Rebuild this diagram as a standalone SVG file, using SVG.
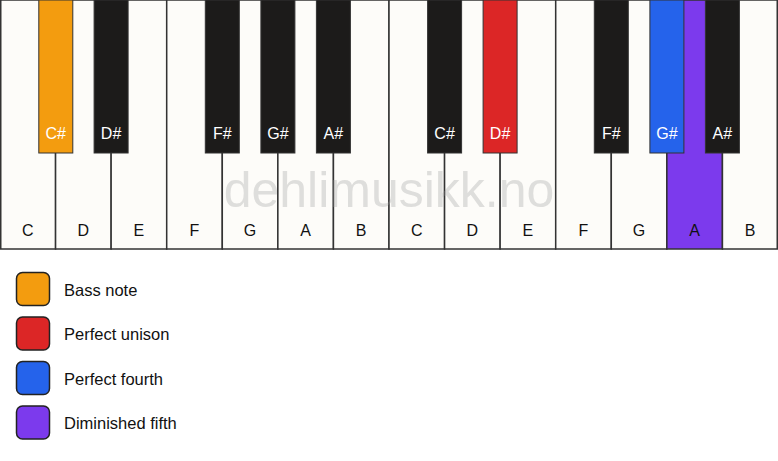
<svg xmlns="http://www.w3.org/2000/svg" width="778" height="461" viewBox="0 0 778 461">
<style>
.w{fill:#fdfcf9;stroke:#333;stroke-width:1.5}
.b{fill:#1c1b1a;stroke:#333;stroke-width:1}
.wl{font-family:"Liberation Sans",Arial,sans-serif;font-size:16px;fill:#111;text-anchor:middle}
.bl{font-family:"Liberation Sans",Arial,sans-serif;font-size:16px;fill:#fff;text-anchor:middle}
.lg{font-family:"Liberation Sans",Arial,sans-serif;font-size:16.5px;fill:#111}
.sw{stroke:#222;stroke-width:1.5}
</style>
<rect width="778" height="461" fill="#fff"/>
<g id="white-keys">
<g id="w-C1"><rect class="w" x="0.75" y="0" width="54.82" height="249"/><text class="wl" x="27.8" y="236">C</text></g>
<g id="w-D1"><rect class="w" x="55.57" y="0" width="55.57" height="249"/><text class="wl" x="83.4" y="236">D</text></g>
<g id="w-E1"><rect class="w" x="111.14" y="0" width="55.57" height="249"/><text class="wl" x="138.9" y="236">E</text></g>
<g id="w-F1"><rect class="w" x="166.71" y="0" width="55.57" height="249"/><text class="wl" x="194.5" y="236">F</text></g>
<g id="w-G1"><rect class="w" x="222.29" y="0" width="55.57" height="249"/><text class="wl" x="250.1" y="236">G</text></g>
<g id="w-A1"><rect class="w" x="277.86" y="0" width="55.57" height="249"/><text class="wl" x="305.6" y="236">A</text></g>
<g id="w-B1"><rect class="w" x="333.43" y="0" width="55.57" height="249"/><text class="wl" x="361.2" y="236">B</text></g>
<g id="w-C2"><rect class="w" x="389" y="0" width="55.57" height="249"/><text class="wl" x="416.8" y="236">C</text></g>
<g id="w-D2"><rect class="w" x="444.57" y="0" width="55.57" height="249"/><text class="wl" x="472.4" y="236">D</text></g>
<g id="w-E2"><rect class="w" x="500.14" y="0" width="55.57" height="249"/><text class="wl" x="527.9" y="236">E</text></g>
<g id="w-F2"><rect class="w" x="555.71" y="0" width="55.57" height="249"/><text class="wl" x="583.5" y="236">F</text></g>
<g id="w-G2"><rect class="w" x="611.29" y="0" width="55.57" height="249"/><text class="wl" x="639.1" y="236">G</text></g>
<g id="w-A2"><rect class="w" x="666.86" y="0" width="55.57" height="249" style="fill:#7c3aed"/><text class="wl" x="694.6" y="236">A</text></g>
<g id="w-B2"><rect class="w" x="722.43" y="0" width="54.82" height="249"/><text class="wl" x="750.2" y="236">B</text></g>
</g>
<text id="watermark" x="389" y="207" font-family="'Liberation Sans',Arial,sans-serif" font-size="50" fill="#999" fill-opacity="0.3" text-anchor="middle">dehlimusikk.no</text>
<g id="black-keys">
<g id="b-Cs1"><rect class="b" x="38.8" y="0" width="34" height="153" style="fill:#f39c0f"/><text class="bl" x="55.8" y="139">C#</text></g>
<g id="b-Ds1"><rect class="b" x="94.1" y="0" width="34" height="153"/><text class="bl" x="111.1" y="139">D#</text></g>
<g id="b-Fs1"><rect class="b" x="205.3" y="0" width="34" height="153"/><text class="bl" x="222.3" y="139">F#</text></g>
<g id="b-Gs1"><rect class="b" x="260.9" y="0" width="34" height="153"/><text class="bl" x="277.9" y="139">G#</text></g>
<g id="b-As1"><rect class="b" x="316.4" y="0" width="34" height="153"/><text class="bl" x="333.4" y="139">A#</text></g>
<g id="b-Cs2"><rect class="b" x="427.6" y="0" width="34" height="153"/><text class="bl" x="444.6" y="139">C#</text></g>
<g id="b-Ds2"><rect class="b" x="483.1" y="0" width="34" height="153" style="fill:#dc2626"/><text class="bl" x="500.1" y="139">D#</text></g>
<g id="b-Fs2"><rect class="b" x="594.3" y="0" width="34" height="153"/><text class="bl" x="611.3" y="139">F#</text></g>
<g id="b-Gs2"><rect class="b" x="649.9" y="0" width="34" height="153" style="fill:#2563eb"/><text class="bl" x="666.9" y="139">G#</text></g>
<g id="b-As2"><rect class="b" x="705.4" y="0" width="34" height="153"/><text class="bl" x="722.4" y="139">A#</text></g>
</g>
<g id="legend">
<g id="lg-bass"><rect class="sw" x="16.5" y="272.5" width="33" height="33" rx="6" fill="#f39c0f"/><text class="lg" x="64" y="295.5">Bass note</text></g>
<g id="lg-unison"><rect class="sw" x="16.5" y="317" width="33" height="33" rx="6" fill="#dc2626"/><text class="lg" x="64" y="340">Perfect unison</text></g>
<g id="lg-fourth"><rect class="sw" x="16.5" y="361.5" width="33" height="33" rx="6" fill="#2563eb"/><text class="lg" x="64" y="384.5">Perfect fourth</text></g>
<g id="lg-fifth"><rect class="sw" x="16.5" y="406" width="33" height="33" rx="6" fill="#7c3aed"/><text class="lg" x="64" y="429">Diminished fifth</text></g>
</g>
</svg>
